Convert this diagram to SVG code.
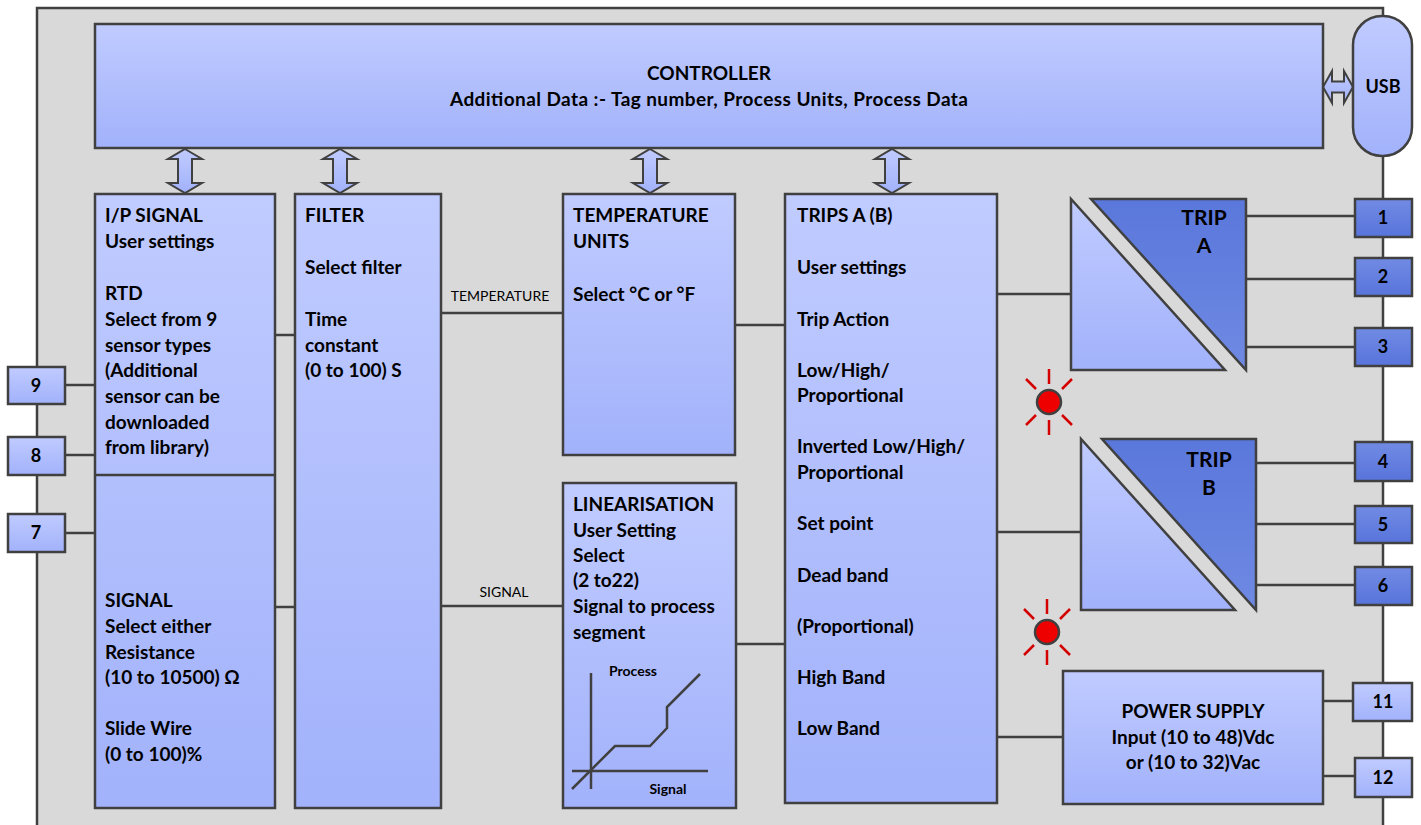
<svg xmlns="http://www.w3.org/2000/svg" width="1421" height="825" viewBox="0 0 1421 825">
<defs>
<linearGradient id="gLight" x1="0" y1="0" x2="0" y2="1">
<stop offset="0" stop-color="#c0cbff"/>
<stop offset="1" stop-color="#a2b2fb"/>
</linearGradient>
<linearGradient id="gDark" x1="0" y1="0" x2="0" y2="1">
<stop offset="0" stop-color="#718be4"/>
<stop offset="1" stop-color="#5874db"/>
</linearGradient>
<linearGradient id="gTrip" x1="0" y1="0" x2="0" y2="1">
<stop offset="0" stop-color="#5a77db"/>
<stop offset="1" stop-color="#6f8ae3"/>
</linearGradient>
<path id="vArrow" d="M0,0 L17,10 L7,10 L7,34 L17,34 L0,44 L-17,34 L-7,34 L-7,10 L-17,10 Z"/>
<g id="led">
<circle cx="0" cy="0" r="12" fill="#ee0000" stroke="#404040" stroke-width="2.5"/>
<g stroke="#d40000" stroke-width="2.5">
<line x1="0" y1="-18" x2="0" y2="-33"/>
<line x1="0" y1="18" x2="0" y2="33"/>
<line x1="13" y1="-13" x2="23" y2="-23"/>
<line x1="-13" y1="-13" x2="-23" y2="-23"/>
<line x1="13" y1="13" x2="23" y2="23"/>
<line x1="-13" y1="13" x2="-23" y2="23"/>
</g>
</g>
</defs>
<style>
.box{fill:url(#gLight);stroke:#404040;stroke-width:2.5}
.dbox{fill:url(#gDark);stroke:#404040;stroke-width:2.5}
.trip{fill:url(#gTrip);stroke:#404040;stroke-width:2.5}
.arr{fill:url(#gLight);stroke:#404040;stroke-width:2}
.ln{stroke:#404040;stroke-width:2.5;fill:none}
.t{font-family:Lato,"Liberation Sans",sans-serif;font-weight:bold;font-size:19px;fill:#000}
.tc{font-family:Lato,"Liberation Sans",sans-serif;font-weight:bold;font-size:19px;fill:#000;text-anchor:middle}
.tn{font-family:Lato,"Liberation Sans",sans-serif;font-weight:bold;font-size:18px;fill:#000;text-anchor:middle}
.ts{font-family:Lato,"Liberation Sans",sans-serif;font-size:14px;fill:#000;text-anchor:middle}
.tg{font-family:Lato,"Liberation Sans",sans-serif;font-weight:bold;font-size:14px;fill:#000;text-anchor:middle}
.tt{font-family:Lato,"Liberation Sans",sans-serif;font-weight:bold;font-size:21px;fill:#000;text-anchor:middle}
</style>
<rect x="0" y="0" width="1421" height="825" fill="#ffffff"/>
<rect id="enclosure" x="37" y="8" width="1346" height="830" fill="#d9d9d9" stroke="#404040" stroke-width="2.5"/>

<g id="connectors">
<line class="ln" x1="65" y1="385" x2="95" y2="385"/>
<line class="ln" x1="65" y1="455" x2="95" y2="455"/>
<line class="ln" x1="65" y1="533" x2="95" y2="533"/>
<line class="ln" x1="275" y1="335" x2="295" y2="335"/>
<line class="ln" x1="275" y1="607" x2="295" y2="607"/>
<line class="ln" x1="441" y1="313" x2="563" y2="313"/>
<line class="ln" x1="441" y1="606" x2="563" y2="606"/>
<line class="ln" x1="735" y1="325" x2="785" y2="325"/>
<line class="ln" x1="736" y1="644" x2="785" y2="644"/>
<line class="ln" x1="997" y1="294" x2="1071" y2="294"/>
<line class="ln" x1="997" y1="532" x2="1081" y2="532"/>
<line class="ln" x1="997" y1="737" x2="1063" y2="737"/>
<line class="ln" x1="1246" y1="216" x2="1355" y2="216"/>
<line class="ln" x1="1246" y1="279" x2="1355" y2="279"/>
<line class="ln" x1="1246" y1="347" x2="1355" y2="347"/>
<line class="ln" x1="1256" y1="463" x2="1355" y2="463"/>
<line class="ln" x1="1256" y1="524" x2="1355" y2="524"/>
<line class="ln" x1="1256" y1="585" x2="1355" y2="585"/>
<line class="ln" x1="1323" y1="701" x2="1353" y2="701"/>
<line class="ln" x1="1323" y1="776" x2="1355" y2="776"/>
<use href="#vArrow" class="arr" x="185" y="149"/>
<use href="#vArrow" class="arr" x="340" y="149"/>
<use href="#vArrow" class="arr" x="650" y="149"/>
<use href="#vArrow" class="arr" x="892" y="149"/>
<path class="arr" d="M1323,87 L1332,71 L1332,81.5 L1344,81.5 L1344,71 L1353,87 L1344,103 L1344,92.5 L1332,92.5 L1332,103 Z"/>
<text class="ts" x="500" y="301">TEMPERATURE</text>
<text class="ts" x="504" y="597">SIGNAL</text>
</g>

<g id="controller">
<rect class="box" x="95" y="24" width="1228" height="124"/>
<text class="tc" x="709" y="80">CONTROLLER</text>
<text class="tc" x="709" y="106" textLength="518" lengthAdjust="spacing">Additional Data :- Tag number, Process Units, Process Data</text>
</g>

<g id="usb">
<rect class="box" x="1353" y="16" width="59" height="140" rx="29" ry="29"/>
<text class="tn" x="1383" y="93">USB</text>
</g>

<g id="ip-signal">
<rect class="box" x="95" y="194" width="180" height="614"/>
<line class="ln" x1="95" y1="475" x2="275" y2="475"/>
<text class="t" x="105" y="222">I/P SIGNAL</text>
<text class="t" x="105" y="248">User settings</text>
<text class="t" x="105" y="300">RTD</text>
<text class="t" x="105" y="326">Select from 9</text>
<text class="t" x="105" y="352">sensor types</text>
<text class="t" x="105" y="377">(Additional</text>
<text class="t" x="105" y="403">sensor can be</text>
<text class="t" x="105" y="429">downloaded</text>
<text class="t" x="105" y="454">from library)</text>
<text class="t" x="105" y="607">SIGNAL</text>
<text class="t" x="105" y="633">Select either</text>
<text class="t" x="105" y="659">Resistance</text>
<text class="t" x="105" y="684">(10 to 10500) Ω</text>
<text class="t" x="105" y="735">Slide Wire</text>
<text class="t" x="105" y="761">(0 to 100)%</text>
</g>

<g id="filter">
<rect class="box" x="295" y="194" width="146" height="614"/>
<text class="t" x="305" y="222">FILTER</text>
<text class="t" x="305" y="274">Select filter</text>
<text class="t" x="305" y="326">Time</text>
<text class="t" x="305" y="352">constant</text>
<text class="t" x="305" y="377">(0 to 100) S</text>
</g>

<g id="temperature-units">
<rect class="box" x="563" y="194" width="172" height="261"/>
<text class="t" x="573" y="222">TEMPERATURE</text>
<text class="t" x="573" y="248">UNITS</text>
<text class="t" x="573" y="301">Select °C or °F</text>
</g>

<g id="linearisation">
<rect class="box" x="563" y="483" width="173" height="325"/>
<text class="t" x="573" y="511">LINEARISATION</text>
<text class="t" x="573" y="537">User Setting</text>
<text class="t" x="573" y="562">Select</text>
<text class="t" x="573" y="587">(2 to22)</text>
<text class="t" x="573" y="613">Signal to process</text>
<text class="t" x="573" y="639">segment</text>
<line class="ln" x1="591" y1="673" x2="591" y2="789"/>
<line class="ln" x1="572" y1="771" x2="708" y2="771"/>
<polyline class="ln" points="572,789 615,746 650,746 667,728 667,707 700,674"/>
<text class="tg" x="633" y="676">Process</text>
<text class="tg" x="668" y="794">Signal</text>
</g>

<g id="trips">
<rect class="box" x="785" y="194" width="212" height="609"/>
<text class="t" x="797" y="222">TRIPS A (B)</text>
<text class="t" x="797" y="274">User settings</text>
<text class="t" x="797" y="326">Trip Action</text>
<text class="t" x="797" y="377">Low/High/</text>
<text class="t" x="797" y="402">Proportional</text>
<text class="t" x="797" y="453">Inverted Low/High/</text>
<text class="t" x="797" y="479">Proportional</text>
<text class="t" x="797" y="530">Set point</text>
<text class="t" x="797" y="582">Dead band</text>
<text class="t" x="797" y="633">(Proportional)</text>
<text class="t" x="797" y="684">High Band</text>
<text class="t" x="797" y="735">Low Band</text>
</g>

<g id="trip-a">
<polygon class="box" points="1071,199 1071,370 1225,370"/>
<polygon class="trip" points="1091,199 1246,199 1246,370"/>
<text class="tt" x="1204" y="225">TRIP</text>
<text class="tt" x="1204" y="253">A</text>
</g>

<g id="trip-b">
<polygon class="box" points="1081,439 1081,610 1235,610"/>
<polygon class="trip" points="1102,439 1256,439 1256,610"/>
<text class="tt" x="1209" y="467">TRIP</text>
<text class="tt" x="1209" y="495">B</text>
</g>

<g id="led-a"><use href="#led" x="1049" y="402"/></g>
<g id="led-b"><use href="#led" x="1047" y="632"/></g>

<g id="power-supply">
<rect class="box" x="1063" y="671" width="260" height="133"/>
<text class="tc" x="1193" y="718">POWER SUPPLY</text>
<text class="tc" x="1193" y="744">Input (10 to 48)Vdc</text>
<text class="tc" x="1193" y="769">or (10 to 32)Vac</text>
</g>

<g id="terminal-1"><rect class="dbox" x="1355" y="199" width="57" height="38"/><text class="tn" x="1383" y="224">1</text></g>
<g id="terminal-2"><rect class="dbox" x="1355" y="258" width="57" height="38"/><text class="tn" x="1383" y="283">2</text></g>
<g id="terminal-3"><rect class="dbox" x="1355" y="328" width="57" height="38"/><text class="tn" x="1383" y="353">3</text></g>
<g id="terminal-4"><rect class="dbox" x="1355" y="442" width="57" height="39"/><text class="tn" x="1383" y="468">4</text></g>
<g id="terminal-5"><rect class="dbox" x="1355" y="506" width="57" height="37"/><text class="tn" x="1383" y="531">5</text></g>
<g id="terminal-6"><rect class="dbox" x="1355" y="567" width="57" height="38"/><text class="tn" x="1383" y="592">6</text></g>
<g id="terminal-11"><rect class="box" x="1353" y="683" width="59" height="38"/><text class="tn" x="1383" y="708">11</text></g>
<g id="terminal-12"><rect class="box" x="1355" y="758" width="57" height="39"/><text class="tn" x="1383" y="784">12</text></g>
<g id="terminal-9"><rect class="box" x="8" y="367" width="57" height="37"/><text class="tn" x="36" y="392">9</text></g>
<g id="terminal-8"><rect class="box" x="8" y="437" width="57" height="38"/><text class="tn" x="36" y="462">8</text></g>
<g id="terminal-7"><rect class="box" x="8" y="514" width="57" height="38"/><text class="tn" x="36" y="539">7</text></g>
</svg>
